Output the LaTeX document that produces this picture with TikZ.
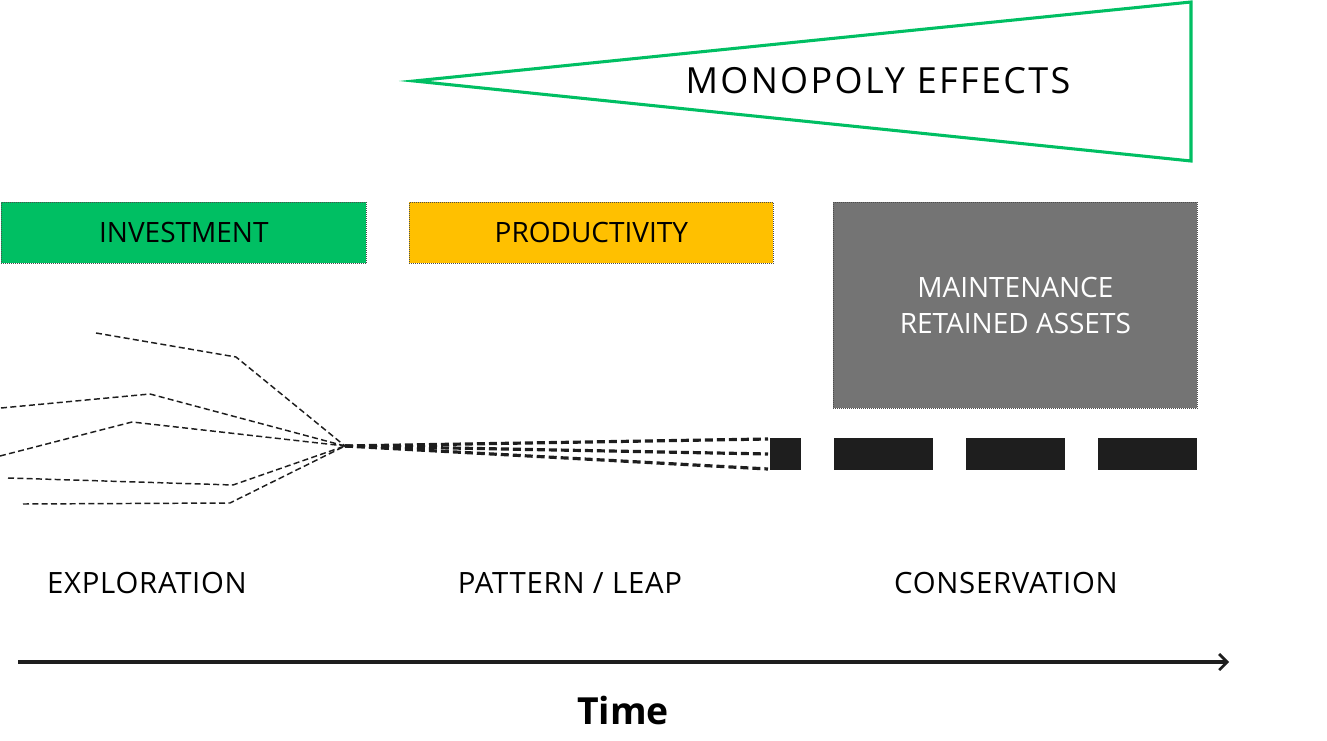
\documentclass[tikz,border=0pt]{standalone}
\usepackage{fontspec}
\setmainfont{Open Sans}
\usetikzlibrary{arrows.meta,calc}
\definecolor{mgreen}{HTML}{00BF63}
\definecolor{myellow}{HTML}{FFC000}
\definecolor{mgray}{HTML}{747474}
\definecolor{mblack}{HTML}{1E1E1E}
\tikzset{
  phasebox/.style={draw=black!70, densely dotted, line width=0.5pt, inner sep=0pt, anchor=north west},
  boxlbl/.style={font=\fontsize{21}{24}\selectfont, inner sep=0pt},
  lbl/.style={font=\fontsize{22}{24}\selectfont\addfontfeatures{LetterSpace=2.5}, inner sep=0pt},
  thinpath/.style={mblack, line width=1.1pt, dash pattern=on 4.5pt off 2.5pt},
  thickpath/.style={mblack, line width=2.4pt, dash pattern=on 6pt off 3pt},
  block/.style={fill=mblack, inner sep=0pt, anchor=north west},
}
\begin{document}
\begin{tikzpicture}[x=0.75pt,y=-0.75pt]
\useasboundingbox (0,0) rectangle (1327,741);
% monopoly wedge
\draw[mgreen, line width=2.3pt, miter limit=12] (414,81) -- (1191,2) -- (1191,161) -- cycle;
\node[font=\fontsize{27}{30}\selectfont\addfontfeatures{LetterSpace=6.5}, inner sep=0pt] (mono) at (878,81) {MONOPOLY EFFECTS};
% phase boxes
\node[phasebox, fill=mgreen, minimum width=273.75pt, minimum height=45.75pt] (inv) at (1,202) {};
\node[boxlbl] (invt) at (inv.center) {INVESTMENT};
\node[phasebox, fill=myellow, minimum width=273pt, minimum height=45.75pt] (prod) at (409,202) {};
\node[boxlbl] (prodt) at (prod.center) {PRODUCTIVITY};
\node[phasebox, fill=mgray, minimum width=273pt, minimum height=154.5pt] (maint) at (833,202) {};
\node[boxlbl, text=white, align=center, font=\fontsize{21}{27.5}\selectfont] (maintt) at (maint.center) {MAINTENANCE\\RETAINED ASSETS};
% convergence point
\coordinate (c) at (345,446);
\coordinate (a1) at (96,333); \coordinate (a2) at (236,357);
\coordinate (b1) at (1,408); \coordinate (b2) at (150,394);
\coordinate (d1) at (0,456); \coordinate (d2) at (132,422);
\coordinate (e1) at (8,478); \coordinate (e2) at (233,485);
\coordinate (f1) at (23,504); \coordinate (f2) at (230,503);
\draw[thinpath] (a1) -- (a2) -- (c);
\draw[thinpath] (b1) -- (b2) -- (c);
\draw[thinpath] (d1) -- (d2) -- (c);
\draw[thinpath] (e1) -- (e2) -- (c);
\draw[thinpath] (f1) -- (f2) -- (c);
% blocks
\node[block, minimum width=23.25pt, minimum height=24pt] (k1) at (770,438) {};
\node[block, minimum width=74.25pt, minimum height=24pt] (k2) at (834,438) {};
\node[block, minimum width=74.25pt, minimum height=24pt] (k3) at (966,438) {};
\node[block, minimum width=74.25pt, minimum height=24pt] (k4) at (1098,438) {};
\coordinate (t1) at (768,439); \coordinate (t2) at (768,454); \coordinate (t3) at (768,469);
\draw[thickpath] (c) -- (t1);
\draw[thickpath] (c) -- (t2);
\draw[thickpath] (c) -- (t3);
% phase labels
\node[lbl] (ex) at (147,583) {EXPLORATION};
\node[lbl] (pl) at (570,583) {PATTERN / LEAP};
\node[lbl] (co) at (1006,583) {CONSERVATION};
% time axis
\coordinate (ax0) at (18,662); \coordinate (ax1) at (1229,662);
\draw[mblack, line width=3pt, -{Straight Barb[length=6pt,width=12pt,line width=2pt]}] (ax0) -- (ax1);
\node[font=\fontsize{28}{30}\selectfont\bfseries, inner sep=0pt] (time) at (623,710) {Time};
\end{tikzpicture}
\end{document}
